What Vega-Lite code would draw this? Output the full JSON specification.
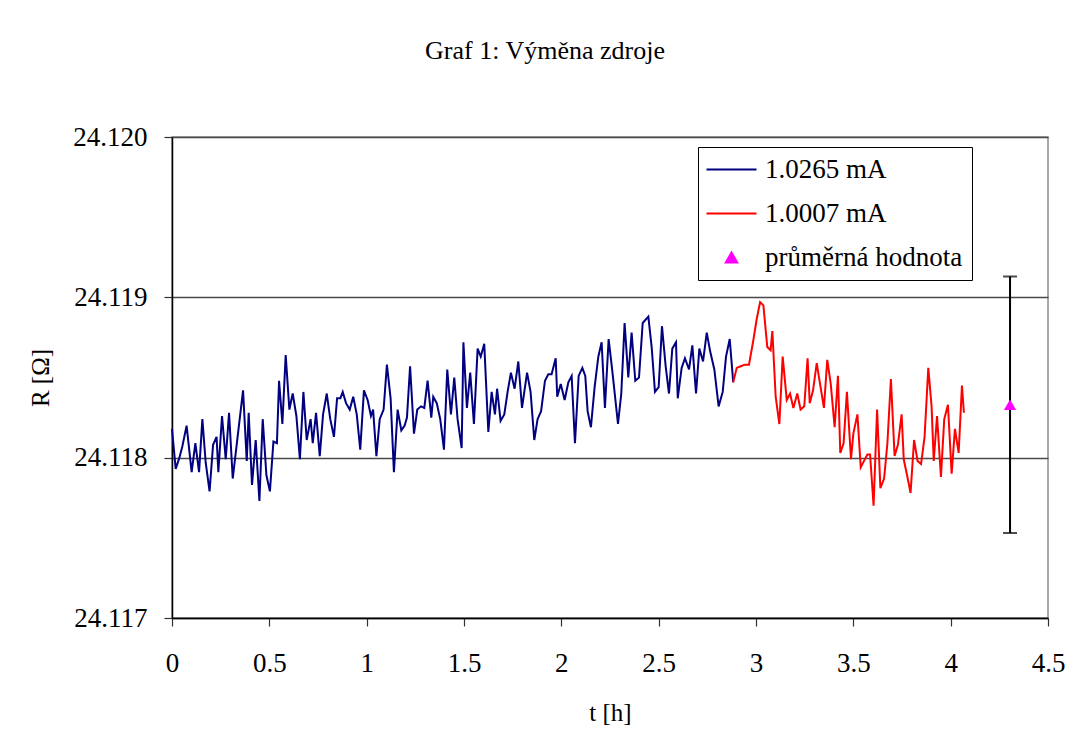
{
  "$schema": "https://vega.github.io/schema/vega-lite/v6.json",
  "width": 876,
  "height": 481,
  "autosize": {"type": "none"},
  "padding": {"left": 172, "top": 137, "right": 25, "bottom": 124},
  "background": "white",
  "title": {"text": "Graf 1: Výměna zdroje", "font": "Liberation Serif", "fontSize": 26, "fontWeight": "normal", "color": "black", "anchor": "middle", "dx": -65, "offset": 38, "baseline": "alphabetic"},
  "config": {
    "font": "Liberation Serif",
    "view": {"stroke": "#8c8c8c", "strokeWidth": 1.5}
  },
  "data": {"values": [
    {"series": "1.0265 mA", "t": 0.000, "R": 24.11818},
    {"series": "1.0265 mA", "t": 0.019, "R": 24.11793},
    {"series": "1.0265 mA", "t": 0.038, "R": 24.11800},
    {"series": "1.0265 mA", "t": 0.053, "R": 24.11807},
    {"series": "1.0265 mA", "t": 0.075, "R": 24.11820},
    {"series": "1.0265 mA", "t": 0.101, "R": 24.11791},
    {"series": "1.0265 mA", "t": 0.120, "R": 24.11809},
    {"series": "1.0265 mA", "t": 0.139, "R": 24.11791},
    {"series": "1.0265 mA", "t": 0.156, "R": 24.11824},
    {"series": "1.0265 mA", "t": 0.173, "R": 24.11797},
    {"series": "1.0265 mA", "t": 0.193, "R": 24.11779},
    {"series": "1.0265 mA", "t": 0.211, "R": 24.11808},
    {"series": "1.0265 mA", "t": 0.229, "R": 24.11813},
    {"series": "1.0265 mA", "t": 0.238, "R": 24.11791},
    {"series": "1.0265 mA", "t": 0.257, "R": 24.11826},
    {"series": "1.0265 mA", "t": 0.276, "R": 24.11799},
    {"series": "1.0265 mA", "t": 0.293, "R": 24.11828},
    {"series": "1.0265 mA", "t": 0.312, "R": 24.11787},
    {"series": "1.0265 mA", "t": 0.337, "R": 24.11813},
    {"series": "1.0265 mA", "t": 0.365, "R": 24.11842},
    {"series": "1.0265 mA", "t": 0.384, "R": 24.11798},
    {"series": "1.0265 mA", "t": 0.394, "R": 24.11828},
    {"series": "1.0265 mA", "t": 0.411, "R": 24.11783},
    {"series": "1.0265 mA", "t": 0.430, "R": 24.11811},
    {"series": "1.0265 mA", "t": 0.449, "R": 24.11773},
    {"series": "1.0265 mA", "t": 0.466, "R": 24.11824},
    {"series": "1.0265 mA", "t": 0.485, "R": 24.11789},
    {"series": "1.0265 mA", "t": 0.503, "R": 24.11779},
    {"series": "1.0265 mA", "t": 0.521, "R": 24.11810},
    {"series": "1.0265 mA", "t": 0.539, "R": 24.11809},
    {"series": "1.0265 mA", "t": 0.550, "R": 24.11848},
    {"series": "1.0265 mA", "t": 0.567, "R": 24.11821},
    {"series": "1.0265 mA", "t": 0.584, "R": 24.11864},
    {"series": "1.0265 mA", "t": 0.603, "R": 24.11830},
    {"series": "1.0265 mA", "t": 0.620, "R": 24.11840},
    {"series": "1.0265 mA", "t": 0.639, "R": 24.11826},
    {"series": "1.0265 mA", "t": 0.657, "R": 24.11799},
    {"series": "1.0265 mA", "t": 0.675, "R": 24.11841},
    {"series": "1.0265 mA", "t": 0.692, "R": 24.11811},
    {"series": "1.0265 mA", "t": 0.712, "R": 24.11824},
    {"series": "1.0265 mA", "t": 0.723, "R": 24.11809},
    {"series": "1.0265 mA", "t": 0.740, "R": 24.11828},
    {"series": "1.0265 mA", "t": 0.759, "R": 24.11801},
    {"series": "1.0265 mA", "t": 0.776, "R": 24.11827},
    {"series": "1.0265 mA", "t": 0.795, "R": 24.11840},
    {"series": "1.0265 mA", "t": 0.813, "R": 24.11824},
    {"series": "1.0265 mA", "t": 0.832, "R": 24.11813},
    {"series": "1.0265 mA", "t": 0.848, "R": 24.11837},
    {"series": "1.0265 mA", "t": 0.865, "R": 24.11837},
    {"series": "1.0265 mA", "t": 0.877, "R": 24.11841},
    {"series": "1.0265 mA", "t": 0.894, "R": 24.11834},
    {"series": "1.0265 mA", "t": 0.913, "R": 24.11830},
    {"series": "1.0265 mA", "t": 0.931, "R": 24.11838},
    {"series": "1.0265 mA", "t": 0.949, "R": 24.11827},
    {"series": "1.0265 mA", "t": 0.967, "R": 24.11805},
    {"series": "1.0265 mA", "t": 0.986, "R": 24.11842},
    {"series": "1.0265 mA", "t": 1.005, "R": 24.11836},
    {"series": "1.0265 mA", "t": 1.022, "R": 24.11826},
    {"series": "1.0265 mA", "t": 1.033, "R": 24.11830},
    {"series": "1.0265 mA", "t": 1.050, "R": 24.11801},
    {"series": "1.0265 mA", "t": 1.067, "R": 24.11824},
    {"series": "1.0265 mA", "t": 1.087, "R": 24.11830},
    {"series": "1.0265 mA", "t": 1.104, "R": 24.11858},
    {"series": "1.0265 mA", "t": 1.123, "R": 24.11837},
    {"series": "1.0265 mA", "t": 1.140, "R": 24.11791},
    {"series": "1.0265 mA", "t": 1.159, "R": 24.11830},
    {"series": "1.0265 mA", "t": 1.178, "R": 24.11817},
    {"series": "1.0265 mA", "t": 1.195, "R": 24.11820},
    {"series": "1.0265 mA", "t": 1.207, "R": 24.11825},
    {"series": "1.0265 mA", "t": 1.223, "R": 24.11857},
    {"series": "1.0265 mA", "t": 1.243, "R": 24.11815},
    {"series": "1.0265 mA", "t": 1.260, "R": 24.11830},
    {"series": "1.0265 mA", "t": 1.279, "R": 24.11832},
    {"series": "1.0265 mA", "t": 1.296, "R": 24.11831},
    {"series": "1.0265 mA", "t": 1.313, "R": 24.11848},
    {"series": "1.0265 mA", "t": 1.332, "R": 24.11825},
    {"series": "1.0265 mA", "t": 1.342, "R": 24.11838},
    {"series": "1.0265 mA", "t": 1.360, "R": 24.11834},
    {"series": "1.0265 mA", "t": 1.378, "R": 24.11824},
    {"series": "1.0265 mA", "t": 1.397, "R": 24.11805},
    {"series": "1.0265 mA", "t": 1.414, "R": 24.11855},
    {"series": "1.0265 mA", "t": 1.433, "R": 24.11827},
    {"series": "1.0265 mA", "t": 1.450, "R": 24.11850},
    {"series": "1.0265 mA", "t": 1.467, "R": 24.11824},
    {"series": "1.0265 mA", "t": 1.488, "R": 24.11806},
    {"series": "1.0265 mA", "t": 1.497, "R": 24.11872},
    {"series": "1.0265 mA", "t": 1.515, "R": 24.11831},
    {"series": "1.0265 mA", "t": 1.532, "R": 24.11853},
    {"series": "1.0265 mA", "t": 1.551, "R": 24.11821},
    {"series": "1.0265 mA", "t": 1.570, "R": 24.11868},
    {"series": "1.0265 mA", "t": 1.586, "R": 24.11863},
    {"series": "1.0265 mA", "t": 1.604, "R": 24.11871},
    {"series": "1.0265 mA", "t": 1.625, "R": 24.11816},
    {"series": "1.0265 mA", "t": 1.642, "R": 24.11841},
    {"series": "1.0265 mA", "t": 1.659, "R": 24.11827},
    {"series": "1.0265 mA", "t": 1.670, "R": 24.11843},
    {"series": "1.0265 mA", "t": 1.688, "R": 24.11823},
    {"series": "1.0265 mA", "t": 1.707, "R": 24.11827},
    {"series": "1.0265 mA", "t": 1.724, "R": 24.11841},
    {"series": "1.0265 mA", "t": 1.741, "R": 24.11853},
    {"series": "1.0265 mA", "t": 1.760, "R": 24.11843},
    {"series": "1.0265 mA", "t": 1.779, "R": 24.11860},
    {"series": "1.0265 mA", "t": 1.798, "R": 24.11831},
    {"series": "1.0265 mA", "t": 1.824, "R": 24.11853},
    {"series": "1.0265 mA", "t": 1.842, "R": 24.11841},
    {"series": "1.0265 mA", "t": 1.861, "R": 24.11811},
    {"series": "1.0265 mA", "t": 1.878, "R": 24.11824},
    {"series": "1.0265 mA", "t": 1.896, "R": 24.11829},
    {"series": "1.0265 mA", "t": 1.916, "R": 24.11848},
    {"series": "1.0265 mA", "t": 1.933, "R": 24.11852},
    {"series": "1.0265 mA", "t": 1.950, "R": 24.11852},
    {"series": "1.0265 mA", "t": 1.971, "R": 24.11862},
    {"series": "1.0265 mA", "t": 1.979, "R": 24.11838},
    {"series": "1.0265 mA", "t": 1.997, "R": 24.11846},
    {"series": "1.0265 mA", "t": 2.017, "R": 24.11836},
    {"series": "1.0265 mA", "t": 2.036, "R": 24.11847},
    {"series": "1.0265 mA", "t": 2.053, "R": 24.11851},
    {"series": "1.0265 mA", "t": 2.070, "R": 24.11809},
    {"series": "1.0265 mA", "t": 2.089, "R": 24.11851},
    {"series": "1.0265 mA", "t": 2.108, "R": 24.11856},
    {"series": "1.0265 mA", "t": 2.123, "R": 24.11851},
    {"series": "1.0265 mA", "t": 2.135, "R": 24.11829},
    {"series": "1.0265 mA", "t": 2.152, "R": 24.11819},
    {"series": "1.0265 mA", "t": 2.171, "R": 24.11844},
    {"series": "1.0265 mA", "t": 2.190, "R": 24.11863},
    {"series": "1.0265 mA", "t": 2.207, "R": 24.11872},
    {"series": "1.0265 mA", "t": 2.224, "R": 24.11831},
    {"series": "1.0265 mA", "t": 2.243, "R": 24.11874},
    {"series": "1.0265 mA", "t": 2.262, "R": 24.11854},
    {"series": "1.0265 mA", "t": 2.291, "R": 24.11821},
    {"series": "1.0265 mA", "t": 2.308, "R": 24.11840},
    {"series": "1.0265 mA", "t": 2.325, "R": 24.11884},
    {"series": "1.0265 mA", "t": 2.344, "R": 24.11850},
    {"series": "1.0265 mA", "t": 2.361, "R": 24.11878},
    {"series": "1.0265 mA", "t": 2.380, "R": 24.11848},
    {"series": "1.0265 mA", "t": 2.399, "R": 24.11850},
    {"series": "1.0265 mA", "t": 2.418, "R": 24.11884},
    {"series": "1.0265 mA", "t": 2.447, "R": 24.11888},
    {"series": "1.0265 mA", "t": 2.464, "R": 24.11869},
    {"series": "1.0265 mA", "t": 2.481, "R": 24.11841},
    {"series": "1.0265 mA", "t": 2.500, "R": 24.11844},
    {"series": "1.0265 mA", "t": 2.517, "R": 24.11882},
    {"series": "1.0265 mA", "t": 2.536, "R": 24.11857},
    {"series": "1.0265 mA", "t": 2.553, "R": 24.11840},
    {"series": "1.0265 mA", "t": 2.570, "R": 24.11868},
    {"series": "1.0265 mA", "t": 2.589, "R": 24.11872},
    {"series": "1.0265 mA", "t": 2.598, "R": 24.11837},
    {"series": "1.0265 mA", "t": 2.618, "R": 24.11856},
    {"series": "1.0265 mA", "t": 2.635, "R": 24.11862},
    {"series": "1.0265 mA", "t": 2.656, "R": 24.11855},
    {"series": "1.0265 mA", "t": 2.673, "R": 24.11870},
    {"series": "1.0265 mA", "t": 2.692, "R": 24.11840},
    {"series": "1.0265 mA", "t": 2.709, "R": 24.11868},
    {"series": "1.0265 mA", "t": 2.728, "R": 24.11860},
    {"series": "1.0265 mA", "t": 2.747, "R": 24.11878},
    {"series": "1.0265 mA", "t": 2.765, "R": 24.11866},
    {"series": "1.0265 mA", "t": 2.786, "R": 24.11855},
    {"series": "1.0265 mA", "t": 2.808, "R": 24.11832},
    {"series": "1.0265 mA", "t": 2.829, "R": 24.11841},
    {"series": "1.0265 mA", "t": 2.846, "R": 24.11863},
    {"series": "1.0265 mA", "t": 2.865, "R": 24.11874},
    {"series": "1.0265 mA", "t": 2.883, "R": 24.11847},
    {"series": "1.0007 mA", "t": 2.883, "R": 24.11847},
    {"series": "1.0007 mA", "t": 2.901, "R": 24.11856},
    {"series": "1.0007 mA", "t": 2.921, "R": 24.11857},
    {"series": "1.0007 mA", "t": 2.943, "R": 24.11858},
    {"series": "1.0007 mA", "t": 2.964, "R": 24.11858},
    {"series": "1.0007 mA", "t": 2.986, "R": 24.11873},
    {"series": "1.0007 mA", "t": 3.003, "R": 24.11886},
    {"series": "1.0007 mA", "t": 3.021, "R": 24.11897},
    {"series": "1.0007 mA", "t": 3.038, "R": 24.11895},
    {"series": "1.0007 mA", "t": 3.058, "R": 24.11869},
    {"series": "1.0007 mA", "t": 3.075, "R": 24.11867},
    {"series": "1.0007 mA", "t": 3.084, "R": 24.11879},
    {"series": "1.0007 mA", "t": 3.101, "R": 24.11838},
    {"series": "1.0007 mA", "t": 3.120, "R": 24.11821},
    {"series": "1.0007 mA", "t": 3.137, "R": 24.11863},
    {"series": "1.0007 mA", "t": 3.158, "R": 24.11836},
    {"series": "1.0007 mA", "t": 3.175, "R": 24.11840},
    {"series": "1.0007 mA", "t": 3.192, "R": 24.11831},
    {"series": "1.0007 mA", "t": 3.212, "R": 24.11840},
    {"series": "1.0007 mA", "t": 3.229, "R": 24.11830},
    {"series": "1.0007 mA", "t": 3.248, "R": 24.11832},
    {"series": "1.0007 mA", "t": 3.265, "R": 24.11862},
    {"series": "1.0007 mA", "t": 3.276, "R": 24.11834},
    {"series": "1.0007 mA", "t": 3.293, "R": 24.11842},
    {"series": "1.0007 mA", "t": 3.312, "R": 24.11859},
    {"series": "1.0007 mA", "t": 3.329, "R": 24.11846},
    {"series": "1.0007 mA", "t": 3.349, "R": 24.11831},
    {"series": "1.0007 mA", "t": 3.366, "R": 24.11861},
    {"series": "1.0007 mA", "t": 3.384, "R": 24.11846},
    {"series": "1.0007 mA", "t": 3.404, "R": 24.11819},
    {"series": "1.0007 mA", "t": 3.421, "R": 24.11851},
    {"series": "1.0007 mA", "t": 3.433, "R": 24.11803},
    {"series": "1.0007 mA", "t": 3.450, "R": 24.11809},
    {"series": "1.0007 mA", "t": 3.467, "R": 24.11841},
    {"series": "1.0007 mA", "t": 3.488, "R": 24.11799},
    {"series": "1.0007 mA", "t": 3.500, "R": 24.11815},
    {"series": "1.0007 mA", "t": 3.521, "R": 24.11827},
    {"series": "1.0007 mA", "t": 3.538, "R": 24.11794},
    {"series": "1.0007 mA", "t": 3.555, "R": 24.11798},
    {"series": "1.0007 mA", "t": 3.572, "R": 24.11802},
    {"series": "1.0007 mA", "t": 3.586, "R": 24.11802},
    {"series": "1.0007 mA", "t": 3.604, "R": 24.11770},
    {"series": "1.0007 mA", "t": 3.622, "R": 24.11830},
    {"series": "1.0007 mA", "t": 3.639, "R": 24.11781},
    {"series": "1.0007 mA", "t": 3.658, "R": 24.11787},
    {"series": "1.0007 mA", "t": 3.675, "R": 24.11809},
    {"series": "1.0007 mA", "t": 3.693, "R": 24.11849},
    {"series": "1.0007 mA", "t": 3.712, "R": 24.11801},
    {"series": "1.0007 mA", "t": 3.729, "R": 24.11808},
    {"series": "1.0007 mA", "t": 3.748, "R": 24.11827},
    {"series": "1.0007 mA", "t": 3.759, "R": 24.11799},
    {"series": "1.0007 mA", "t": 3.776, "R": 24.11789},
    {"series": "1.0007 mA", "t": 3.794, "R": 24.11778},
    {"series": "1.0007 mA", "t": 3.812, "R": 24.11811},
    {"series": "1.0007 mA", "t": 3.830, "R": 24.11798},
    {"series": "1.0007 mA", "t": 3.848, "R": 24.11796},
    {"series": "1.0007 mA", "t": 3.866, "R": 24.11813},
    {"series": "1.0007 mA", "t": 3.885, "R": 24.11856},
    {"series": "1.0007 mA", "t": 3.902, "R": 24.11832},
    {"series": "1.0007 mA", "t": 3.913, "R": 24.11798},
    {"series": "1.0007 mA", "t": 3.930, "R": 24.11826},
    {"series": "1.0007 mA", "t": 3.950, "R": 24.11788},
    {"series": "1.0007 mA", "t": 3.967, "R": 24.11824},
    {"series": "1.0007 mA", "t": 3.986, "R": 24.11833},
    {"series": "1.0007 mA", "t": 4.005, "R": 24.11790},
    {"series": "1.0007 mA", "t": 4.022, "R": 24.11818},
    {"series": "1.0007 mA", "t": 4.041, "R": 24.11803},
    {"series": "1.0007 mA", "t": 4.058, "R": 24.11845},
    {"series": "1.0007 mA", "t": 4.068, "R": 24.11828},
    {"series": "průměrná hodnota", "t": 4.305, "R": 24.11833, "lo": 24.11753, "hi": 24.11913}
  ]},
  "encoding": {
    "x": {"field": "t", "type": "quantitative",
      "scale": {"domain": [0, 4.5], "nice": false, "zero": false},
      "axis": {"title": "t [h]", "values": [0, 0.5, 1, 1.5, 2, 2.5, 3, 3.5, 4, 4.5], "format": "~g",
        "grid": false, "tickSize": 8, "tickColor": "#333", "tickWidth": 1.2,
        "domainColor": "black", "domainWidth": 1.5,
        "labelFont": "Liberation Serif", "labelFontSize": 27, "labelColor": "black", "labelPadding": 24,
        "labelFlush": false, "labelOverlap": false,
        "titleFont": "Liberation Serif", "titleFontSize": 25, "titleFontWeight": "normal", "titleColor": "black", "titlePadding": 24}}
  },
  "layer": [
    {
      "transform": [{"filter": "datum.series !== 'průměrná hodnota'"}],
      "mark": {"type": "line", "strokeWidth": 2},
      "encoding": {
        "y": {"field": "R", "type": "quantitative",
          "scale": {"domain": [24.117, 24.120], "nice": false, "zero": false},
          "axis": {"title": "R [Ω]", "values": [24.117, 24.118, 24.119, 24.120], "format": ".3f",
            "grid": true, "gridColor": "#4a4a4a", "gridWidth": 1.3,
            "tickSize": 8, "tickColor": "#333", "tickWidth": 1.2,
            "domainColor": "black", "domainWidth": 1.5,
            "labelFont": "Liberation Serif", "labelFontSize": 27, "labelColor": "black", "labelPadding": 17,
            "labelFlush": false, "labelOverlap": false,
            "titleFont": "Liberation Serif", "titleFontSize": 25, "titleFontWeight": "normal", "titleColor": "black", "titlePadding": 19}},
        "color": {"field": "series", "type": "nominal",
          "scale": {"domain": ["1.0265 mA", "1.0007 mA", "průměrná hodnota"], "range": ["#000080", "#FF0000", "#FF00FF"]},
          "legend": {"orient": "none", "legendX": 526, "legendY": 10, "title": null,
            "strokeColor": "black", "fillColor": "white", "padding": 9,
            "labelFont": "Liberation Serif", "labelFontSize": 27, "labelColor": "black", "labelLimit": 400,
            "symbolType": "M-2,0H2", "symbolSize": 625, "symbolStrokeWidth": 2, "symbolOffset": 11,
            "rowPadding": 16, "labelOffset": 20,
            "encode": {"symbols": {"update": {
              "shape": {"signal": "datum.value === 'průměrná hodnota' ? 'triangle-up' : 'M-2,0H2'"},
              "size": {"signal": "datum.value === 'průměrná hodnota' ? 130 : 625"},
              "fill": {"signal": "datum.value === 'průměrná hodnota' ? '#FF00FF' : 'transparent'"},
              "stroke": {"signal": "datum.value === '1.0265 mA' ? '#000080' : datum.value === '1.0007 mA' ? '#FF0000' : 'transparent'"},
              "strokeWidth": {"value": 2},
              "opacity": {"value": 1}
            }}}}}
      }
    },
    {
      "transform": [{"filter": "datum.series === 'průměrná hodnota'"}],
      "mark": {"type": "rule", "color": "black", "strokeWidth": 2},
      "encoding": {"y": {"field": "lo", "type": "quantitative"}, "y2": {"field": "hi"}}
    },
    {
      "transform": [{"filter": "datum.series === 'průměrná hodnota'"}],
      "mark": {"type": "tick", "orient": "horizontal", "color": "black", "thickness": 2, "size": 14},
      "encoding": {"y": {"field": "lo", "type": "quantitative"}}
    },
    {
      "transform": [{"filter": "datum.series === 'průměrná hodnota'"}],
      "mark": {"type": "tick", "orient": "horizontal", "color": "black", "thickness": 2, "size": 14},
      "encoding": {"y": {"field": "hi", "type": "quantitative"}}
    },
    {
      "transform": [{"filter": "datum.series === 'průměrná hodnota'"}],
      "mark": {"type": "point", "shape": "triangle-up", "filled": true, "size": 150, "opacity": 1},
      "encoding": {
        "y": {"field": "R", "type": "quantitative"},
        "color": {"field": "series", "type": "nominal"}
      }
    }
  ]
}
